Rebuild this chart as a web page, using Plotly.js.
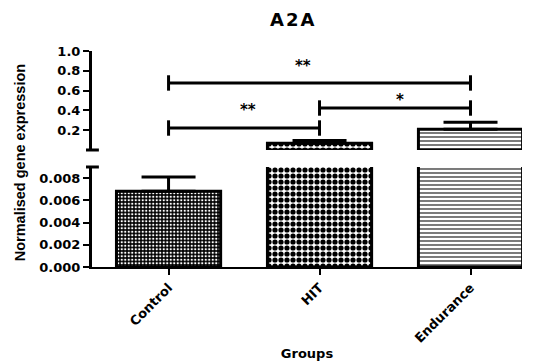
<!DOCTYPE html>
<html>
<head>
<meta charset="utf-8">
<script src="https://cdn.plot.ly/plotly-3.0.1.min.js"></script>
<style>
html,body{margin:0;padding:0;background:#fff;}
#chart{width:543px;height:363px;}
.gtitle{letter-spacing:2px;}
</style>
</head>
<body>
<div id="chart"></div>
<script>
// ---- data ----
const groups = ["Control", "HIT", "Endurance"];
const expression = [0.0068, 0.068, 0.21];
const sem = [0.0013, 0.028, 0.07];
const lowerTicks = [0, 0.002, 0.004, 0.006, 0.008];
const upperTicks = [0.2, 0.4, 0.6, 0.8, 1.0];
const comparisons = [
  {from: "Control", to: "HIT", level: 0.222, label: "**"},
  {from: "HIT", to: "Endurance", level: 0.424, label: "*"},
  {from: "Control", to: "Endurance", level: 0.677, label: "**"}
];

const FONT = "DejaVu Sans";
const patterns = [
  {shape: ".", bgcolor: "#000", fgcolor: "#fff", size: 3.5, solidity: 0.35},
  {shape: ".", bgcolor: "#fff", fgcolor: "#000", size: 6, solidity: 0.6},
  {shape: "-", bgcolor: "#fff", fgcolor: "#222", size: 4, solidity: 0.3}
];

function pat(idx) {
  return {shape: idx.map(i=>patterns[i].shape), bgcolor: idx.map(i=>patterns[i].bgcolor),
          fgcolor: idx.map(i=>patterns[i].fgcolor), size: idx.map(i=>patterns[i].size),
          solidity: idx.map(i=>patterns[i].solidity), fillmode: "replace"};
}

// lower segment: all groups
const allIdx = [0, 1, 2];
const lower = {
  type: "bar", x: groups, y: expression, xaxis: "x", yaxis: "y",
  marker: {color: "#fff", line: {color: "#000", width: 3}, pattern: pat(allIdx)},
  error_y: {type: "data", symmetric: false, array: sem, arrayminus: sem.map(()=>0),
            color: "#000", thickness: 3, width: 27},
  hoverinfo: "skip", showlegend: false
};
// upper segment: groups that reach it
const upIdx = [1, 2];
const upper = {
  type: "bar", x: upIdx.map(i=>groups[i]), y: upIdx.map(i=>expression[i]), xaxis: "x", yaxis: "y2",
  marker: {color: "#fff", line: {color: "#000", width: 3}, pattern: pat(upIdx)},
  error_y: {type: "data", symmetric: false, array: upIdx.map(i=>sem[i]), arrayminus: upIdx.map(()=>0),
            color: "#000", thickness: 3, width: 27},
  hoverinfo: "skip", showlegend: false
};

const brackets = comparisons.map(c => ({
  type: "scatter", mode: "lines+markers", x: [c.from, c.to], y: [c.level, c.level],
  xaxis: "x", yaxis: "y2", cliponaxis: false,
  line: {color: "#000", width: 3},
  marker: {symbol: "line-ns-open", size: 11, color: "#000", line: {color: "#000", width: 3}},
  hoverinfo: "skip", showlegend: false
}));

const starPos = [{x: 0.525, y: 0.40}, {x: 1.535, y: 0.51}, {x: 0.89, y: 0.853}];
const annotations = comparisons.map((c, i) => ({
  x: starPos[i].x, y: starPos[i].y, xref: "x", yref: "y2", text: c.label, showarrow: false,
  xanchor: "center", yanchor: "middle", font: {family: FONT, size: 15, color: "#000", weight: 700}
}));
annotations.push({
  text: "Normalised gene expression", xref: "paper", yref: "paper", x: -0.167, y: 0.481,
  textangle: -90, showarrow: false, xanchor: "center", yanchor: "middle",
  font: {family: "Liberation Sans", size: 14.5, color: "#000", weight: 700}
});

const tickfont = {family: FONT, size: 13, color: "#000", weight: 700};
const layout = {
  width: 543, height: 363,
  margin: {l: 92, r: 21, t: 51, b: 96},
  paper_bgcolor: "#fff", plot_bgcolor: "#fff",
  bargap: 0.31,
  title: {text: "A2A", x: 0.54, xanchor: "center", y: 0.945, yanchor: "middle", yref: "container",
          font: {family: FONT, size: 18, color: "#000", weight: 700}},
  xaxis: {anchor: "y", type: "category", categoryorder: "array", categoryarray: groups,
          range: [-0.507, 2.341], showgrid: false, zeroline: false,
          showline: true, linecolor: "#000", linewidth: 2,
          ticks: "outside", ticklen: 6, tickwidth: 2, tickcolor: "#000",
          tickangle: -45, tickfont: tickfont,
          title: {text: "Groups", standoff: 4, font: {family: FONT, size: 13, color: "#000", weight: 700}}},
  yaxis: {domain: [0, 0.463], range: [0, 0.00899], showgrid: false, zeroline: false,
          showline: true, linecolor: "#000", linewidth: 3,
          tickvals: lowerTicks, tickformat: ".3f", ticks: "outside", ticklen: 6, tickwidth: 2,
          tickcolor: "#000", tickfont: tickfont},
  yaxis2: {domain: [0.5417, 1], range: [0, 1.0], anchor: "x", showgrid: false, zeroline: false,
           showline: true, linecolor: "#000", linewidth: 3,
           tickvals: upperTicks, tickformat: ".1f", ticks: "outside", ticklen: 6, tickwidth: 2,
           tickcolor: "#000", tickfont: tickfont},
  shapes: [
    {type: "line", xref: "paper", yref: "paper", x0: -0.014, x1: 0.016, y0: 0.5417, y1: 0.5417,
     line: {color: "#000", width: 3}},
    {type: "line", xref: "paper", yref: "paper", x0: -0.014, x1: 0.016, y0: 0.463, y1: 0.463,
     line: {color: "#000", width: 3}}
  ],
  annotations: annotations
};

Plotly.newPlot("chart", [lower, upper].concat(brackets), layout, {displayModeBar: false, staticPlot: true});
</script>
</body>
</html>
